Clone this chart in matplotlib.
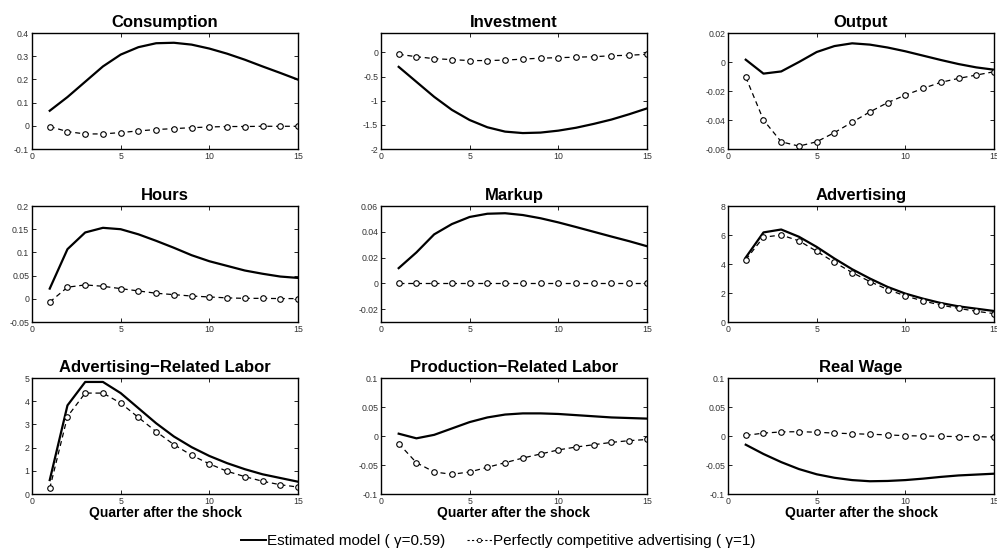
import matplotlib
matplotlib.use('Agg')
import matplotlib.pyplot as plt
from matplotlib.lines import Line2D
from matplotlib.ticker import FuncFormatter
import numpy as np

plt.rcParams['font.family'] = ['Liberation Sans', 'DejaVu Sans']

quarters = np.arange(1, 16)

titles = ['Consumption', 'Investment', 'Output',
          'Hours', 'Markup', 'Advertising',
          'Advertising\u2212Related Labor', 'Production\u2212Related Labor', 'Real Wage']

# estimated model (gamma = 0.59)
consumption_est = [0.065, 0.124, 0.19, 0.256, 0.307, 0.339, 0.356, 0.358, 0.35,
                   0.333, 0.311, 0.285, 0.256, 0.228, 0.199]
investment_est = [-0.30, -0.61, -0.92, -1.19, -1.40, -1.55, -1.64, -1.67, -1.66,
                  -1.62, -1.56, -1.48, -1.39, -1.28, -1.16]
output_est = [0.0016, -0.008, -0.0065, 0.0, 0.0069, 0.011, 0.0129, 0.012, 0.010,
              0.0074, 0.0044, 0.0014, -0.0014, -0.0037, -0.0053]
hours_est = [0.022, 0.107, 0.143, 0.153, 0.150, 0.139, 0.125, 0.110, 0.094,
             0.081, 0.071, 0.061, 0.054, 0.048, 0.045]
markup_est = [0.0118, 0.024, 0.038, 0.046, 0.0515, 0.054, 0.0544, 0.053, 0.0505,
              0.0473, 0.0437, 0.040, 0.0363, 0.0327, 0.0288]
advertising_est = [4.45, 6.18, 6.38, 5.88, 5.18, 4.38, 3.64, 3.0, 2.42,
                   1.96, 1.61, 1.31, 1.08, 0.92, 0.76]
adv_labor_est = [0.6, 3.82, 4.83, 4.83, 4.35, 3.7, 3.05, 2.48, 2.02,
                 1.64, 1.33, 1.07, 0.85, 0.69, 0.53]
prod_labor_est = [0.004, -0.004, 0.002, 0.013, 0.024, 0.032, 0.037, 0.039, 0.039,
                  0.038, 0.036, 0.034, 0.032, 0.031, 0.030]
real_wage_est = [-0.015, -0.031, -0.045, -0.057, -0.066, -0.072, -0.076, -0.078, -0.0775,
                 -0.076, -0.0735, -0.0705, -0.068, -0.0665, -0.065]

# perfectly competitive advertising (gamma = 1)
consumption_pc = [-0.003, -0.025, -0.035, -0.035, -0.029, -0.022, -0.016, -0.012, -0.008,
                  -0.005, -0.003, -0.003, -0.002, -0.002, -0.002]
investment_pc = [-0.04, -0.09, -0.13, -0.15, -0.17, -0.17, -0.16, -0.14, -0.12,
                 -0.11, -0.10, -0.09, -0.07, -0.06, -0.04]
output_pc = [-0.0104, -0.040, -0.055, -0.058, -0.055, -0.0487, -0.0415, -0.0344, -0.028,
             -0.0228, -0.0182, -0.014, -0.0113, -0.009, -0.0067]
hours_pc = [-0.007, 0.025, 0.030, 0.027, 0.022, 0.017, 0.012, 0.009, 0.006,
            0.004, 0.002, 0.001, 0.001, 0.0005, 0.0005]
markup_pc = [0.0] * 15
advertising_pc = [4.3, 5.85, 6.0, 5.6, 4.88, 4.12, 3.41, 2.79, 2.24,
                  1.8, 1.45, 1.17, 0.94, 0.74, 0.58]
adv_labor_pc = [0.24, 3.34, 4.35, 4.35, 3.92, 3.3, 2.69, 2.13, 1.67,
                1.3, 0.98, 0.75, 0.55, 0.4, 0.3]
prod_labor_pc = [-0.013, -0.046, -0.062, -0.066, -0.062, -0.054, -0.046, -0.038, -0.031,
                 -0.024, -0.019, -0.015, -0.011, -0.008, -0.006]
real_wage_pc = [0.001, 0.005, 0.007, 0.0075, 0.0065, 0.005, 0.004, 0.003, 0.002,
                0.0005, 0.0, -0.0005, -0.001, -0.001, -0.002]

estimated = [consumption_est, investment_est, output_est, hours_est, markup_est,
             advertising_est, adv_labor_est, prod_labor_est, real_wage_est]
competitive = [consumption_pc, investment_pc, output_pc, hours_pc, markup_pc,
               advertising_pc, adv_labor_pc, prod_labor_pc, real_wage_pc]

y_limits = [(-0.1, 0.4), (-2, 0.4), (-0.06, 0.02),
            (-0.05, 0.2), (-0.03, 0.06), (0, 8),
            (0, 5), (-0.1, 0.1), (-0.1, 0.1)]
y_ticks = [[-0.1, 0, 0.1, 0.2, 0.3, 0.4], [-2, -1.5, -1, -0.5, 0], [-0.06, -0.04, -0.02, 0, 0.02],
           [-0.05, 0, 0.05, 0.1, 0.15, 0.2], [-0.02, 0, 0.02, 0.04, 0.06], [0, 2, 4, 6, 8],
           [0, 1, 2, 3, 4, 5], [-0.1, -0.05, 0, 0.05, 0.1], [-0.1, -0.05, 0, 0.05, 0.1]]
x_ticks = [0, 5, 10, 15]

fig = plt.figure(figsize=(9.97, 5.55), dpi=100)

col_left = [0.0321, 0.3821, 0.7302]
row_bottom = [0.7315, 0.4198, 0.1099]
ax_w, ax_h = 0.2668, 0.209

fmt = FuncFormatter(lambda v, pos: '%g' % v)

for i in range(9):
    r, c = divmod(i, 3)
    ax = fig.add_axes([col_left[c], row_bottom[r], ax_w, ax_h])
    ax.plot(quarters, estimated[i], '-', color='black', linewidth=1.6)
    ax.plot(quarters, competitive[i], '--', color='black', linewidth=0.9,
            marker='o', markersize=4, markerfacecolor='white',
            markeredgecolor='black', markeredgewidth=0.8, dashes=(4, 3))
    ax.set_xlim(0, 15)
    ax.set_ylim(*y_limits[i])
    ax.set_xticks(x_ticks)
    ax.set_yticks(y_ticks[i])
    ax.xaxis.set_major_formatter(fmt)
    ax.yaxis.set_major_formatter(fmt)
    ax.tick_params(direction='in', length=3, width=0.6, labelsize=6.3,
                   top=True, right=True, pad=2, colors='black', labelcolor='#333333')
    for s in ax.spines.values():
        s.set_linewidth(1.0)
    ax.set_title(titles[i], fontsize=12, fontweight='bold', pad=4)
    if r == 2:
        ax.set_xlabel('Quarter after the shock', fontsize=10, fontweight='bold', labelpad=0)

handles = [
    Line2D([], [], color='black', linewidth=1.4),
    Line2D([], [], color='black', linewidth=0.8, linestyle='--', marker='o',
           markersize=3, markerfacecolor='white', markeredgewidth=0.6, dashes=(2, 2)),
]
labels = ['Estimated model ( \u03b3=0.59)', 'Perfectly competitive advertising ( \u03b3=1)']
fig.legend(handles, labels, loc='center', bbox_to_anchor=(0.5, 0.025), ncol=2,
           frameon=False, fontsize=11, handlelength=1.6, handletextpad=0.1,
           columnspacing=1.4)

fig.savefig('out.png', dpi=100)
